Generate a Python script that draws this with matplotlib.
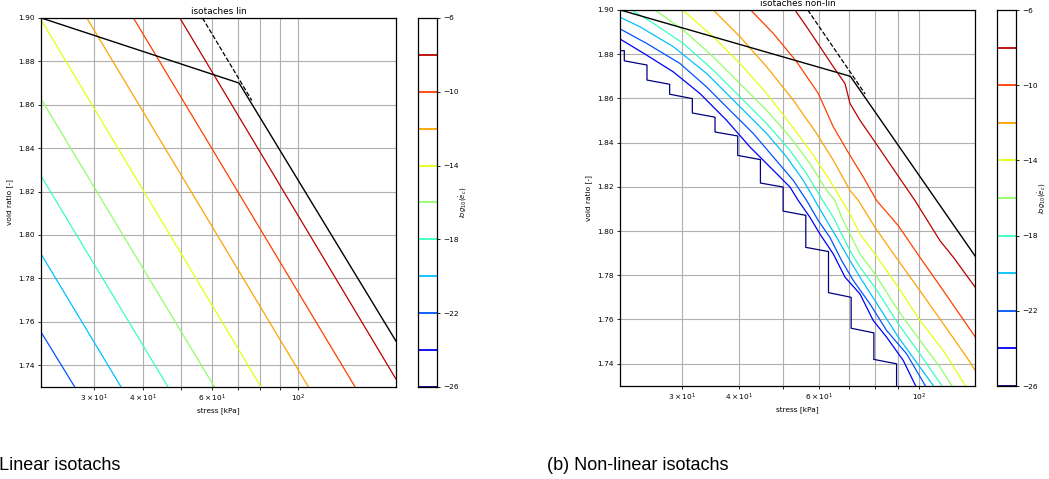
import numpy as np
import matplotlib.pyplot as plt
from matplotlib.colors import Normalize

# isotach levels (log10 of creep strain rate)
levels = [-26, -24, -22, -20, -18, -16, -14, -12, -10, -8, -6]
cbar_ticks = [-26, -22, -18, -14, -10, -6]

# loading path: recompression branch + normal compression line
path_stress = [21.94, 70.5, 178.0]
path_e = [1.900, 1.870, 1.751]
# NCL extended above the preconsolidation point
ncl_ext_stress = [56.8, 76.0]
ncl_ext_e = [1.900, 1.862]

# linear isotachs: straight lines in e - log(stress)
lin_levels = [-22, -20, -18, -16, -14, -12, -10, -8]
lin_s0 = [21.94, 21.94, 21.94, 21.94, 21.94, 28.7, 37.8, 49.7]
lin_e0 = [1.755, 1.791, 1.827, 1.8625, 1.899, 1.900, 1.900, 1.900]
lin_s1 = [26.7, 35.1, 46.3, 60.9, 80.2, 106.1, 139.7, 178.0]
lin_e1 = [1.730, 1.730, 1.730, 1.730, 1.730, 1.730, 1.730, 1.7335]

# non-linear isotachs
nl_s_m26 = [21.94, 22.39, 22.39, 25.12, 25.12, 28.18, 28.18, 31.62, 31.62, 35.48, 35.48,
            39.81, 39.81, 44.67, 44.67, 50.12, 50.12, 56.23, 56.23, 63.10, 63.10, 70.79,
            70.79, 79.43, 79.43, 89.13, 89.13]
nl_e_m26 = [1.8816, 1.8816, 1.8770, 1.8751, 1.8683, 1.8664, 1.8619, 1.8599, 1.8534, 1.8515,
            1.8448, 1.8430, 1.8342, 1.8323, 1.8217, 1.8199, 1.8090, 1.8071, 1.7926, 1.7907,
            1.7721, 1.7700, 1.7560, 1.7539, 1.7419, 1.7399, 1.7290]
nl_s_m24 = [21.94, 25.07, 28.71, 32.87, 37.62, 42.37, 46.88, 51.89, 54.13, 57.43, 60.43,
            64.66, 68.62, 74.04, 79.18, 84.72, 92.22, 98.67]
nl_e_m24 = [1.8868, 1.8796, 1.8720, 1.8622, 1.8501, 1.8380, 1.8290, 1.8199, 1.8138, 1.8062,
            1.7986, 1.7896, 1.7791, 1.7715, 1.7595, 1.7520, 1.7414, 1.7290]
nl_s_m22 = [21.94, 25.07, 29.70, 33.99, 38.27, 43.09, 47.68, 52.78, 56.47, 59.92, 63.57,
            67.46, 71.57, 77.88, 84.72, 93.80, 103.8]
nl_e_m22 = [1.8914, 1.8849, 1.8758, 1.8652, 1.8546, 1.8441, 1.8335, 1.8229, 1.8138, 1.8047,
            1.7971, 1.7866, 1.7776, 1.7670, 1.7550, 1.7444, 1.7290]
nl_s_m20 = [21.94, 24.24, 28.71, 33.99, 40.27, 46.11, 51.02, 55.53, 58.90, 62.51, 65.77,
            70.37, 74.04, 79.86, 89.92, 100.35, 108.3]
nl_e_m20 = [1.8967, 1.8924, 1.8834, 1.8713, 1.8562, 1.8441, 1.8335, 1.8229, 1.8138, 1.8047,
            1.7971, 1.7866, 1.7791, 1.7685, 1.7520, 1.7384, 1.7290]
nl_s_m18 = [23.24, 25.94, 30.20, 35.16, 40.27, 46.11, 51.89, 56.47, 61.3, 64.66, 67.46,
            70.37, 74.04, 79.86, 89.92, 100.35, 113.0]
nl_e_m18 = [1.9000, 1.8940, 1.8849, 1.8728, 1.8607, 1.8486, 1.8365, 1.8259, 1.8138, 1.8062,
            1.7986, 1.7911, 1.7836, 1.7745, 1.7580, 1.7444, 1.7290]
nl_s_m16 = [26.16, 30.20, 35.16, 40.27, 46.11, 51.89, 57.43, 62.51, 65.2, 67.46, 70.37,
            74.04, 79.86, 89.92, 100.35, 111.1, 118.9]
nl_e_m16 = [1.9000, 1.8909, 1.8788, 1.8667, 1.8546, 1.8426, 1.8305, 1.8184, 1.8138, 1.8062,
            1.7986, 1.7896, 1.7806, 1.7640, 1.7505, 1.7384, 1.7290]
nl_s_m14 = [30.10, 35.16, 40.27, 46.11, 51.89, 57.43, 63.57, 67.5, 70.37, 74.04, 79.86,
            89.92, 100.35, 113.0, 127.2]
nl_e_m14 = [1.9000, 1.8879, 1.8758, 1.8622, 1.8486, 1.8365, 1.8229, 1.8138, 1.8077, 1.7986,
            1.7896, 1.7745, 1.7595, 1.7459, 1.7290]
nl_s_m12 = [35.16, 40.27, 46.11, 52.78, 59.41, 64.66, 70.37, 73.43, 79.86, 89.92, 100.35,
            113.0, 127.2, 132.9]
nl_e_m12 = [1.9000, 1.8879, 1.8743, 1.8592, 1.8441, 1.8320, 1.8184, 1.8138, 1.8017, 1.7866,
            1.7730, 1.7580, 1.7429, 1.7369]
nl_s_m10 = [42.51, 47.68, 53.68, 59.92, 64.66, 70.37, 75.5, 80.54, 89.92, 100.35, 113.0,
            132.9]
nl_e_m10 = [1.9000, 1.8894, 1.8766, 1.8622, 1.8471, 1.8342, 1.8240, 1.8138, 1.8024, 1.7881,
            1.7730, 1.7520]
nl_s_m8 = [53.23, 56.47, 60.43, 64.66, 68.62, 70.37, 74.04, 79.86, 89.16, 97.84, 111.1,
           118.9, 132.9]
nl_e_m8 = [1.9000, 1.8924, 1.8834, 1.8743, 1.8667, 1.8577, 1.8501, 1.8403, 1.8259, 1.8138,
           1.7956, 1.7881, 1.7745]

nl_levels = [-26, -24, -22, -20, -18, -16, -14, -12, -10, -8]
nl_stress = [nl_s_m26, nl_s_m24, nl_s_m22, nl_s_m20, nl_s_m18,
             nl_s_m16, nl_s_m14, nl_s_m12, nl_s_m10, nl_s_m8]
nl_void = [nl_e_m26, nl_e_m24, nl_e_m22, nl_e_m20, nl_e_m18,
           nl_e_m16, nl_e_m14, nl_e_m12, nl_e_m10, nl_e_m8]

cmap = plt.get_cmap('jet')
norm = Normalize(vmin=-26, vmax=-7)

W, H = 1049, 479
fig = plt.figure(figsize=(W / 100, H / 100), dpi=100)


def px_box(x0, y0, x1, y1):
    return [x0 / W, 1 - y1 / H, (x1 - x0) / W, (y1 - y0) / H]


def style_axes(ax, title, xmax):
    ax.set_xscale('log')
    ax.set_xlim(21.94, xmax)
    ax.set_ylim(1.73, 1.90)
    ax.set_yticks(np.arange(1.74, 1.901, 0.02))
    ax.grid(True, which='both', color='#b0b0b0', lw=0.8)
    ax.set_axisbelow(True)
    ax.tick_params(which='both', labelsize=5.3, length=2.5, width=0.6, pad=2)
    ax.set_xlabel('stress [kPa]', fontsize=5.3, labelpad=2)
    ax.set_ylabel('void ratio [-]', fontsize=5.3, labelpad=4)
    ax.set_title(title, fontsize=6.4, pad=3)
    for sp in ax.spines.values():
        sp.set_linewidth(0.9)
    ax.plot(path_stress, path_e, color='black', lw=1.0)
    ax.plot(ncl_ext_stress, ncl_ext_e, color='black', lw=0.9, ls='--')


def draw_cbar(cax):
    cax.set_ylim(min(levels), max(levels))
    for lv in levels:
        cax.axhline(lv, color=cmap(norm(lv)), lw=1.3)
    cax.set_xticks([])
    cax.yaxis.tick_right()
    cax.set_yticks(cbar_ticks)
    cax.tick_params(labelsize=5.3, length=2.5, width=0.6, pad=2)
    cax.yaxis.set_label_position('right')
    cax.set_ylabel(r'$log_{10}(\dot{e}_c)$', fontsize=5.0, labelpad=-1)
    for sp in cax.spines.values():
        sp.set_linewidth(0.9)


# linear isotachs
ax1 = fig.add_axes(px_box(41.3, 18, 396, 386.7))
for lv, s0, e0, s1, e1 in zip(lin_levels, lin_s0, lin_e0, lin_s1, lin_e1):
    ax1.plot([s0, s1], [e0, e1], color=cmap(norm(lv)), lw=0.9)
style_axes(ax1, 'isotaches lin', 178.0)
cax1 = fig.add_axes(px_box(418, 18, 437, 387))
draw_cbar(cax1)

# non-linear isotachs
ax2 = fig.add_axes(px_box(620.3, 10, 975.3, 385.7))
for lv, s, e in zip(nl_levels, nl_stress, nl_void):
    ax2.plot(s, e, color=cmap(norm(lv)), lw=0.9)
style_axes(ax2, 'isotaches non-lin', 132.9)
cax2 = fig.add_axes(px_box(997, 10, 1016, 386))
draw_cbar(cax2)

fig.text(-28 / W, 1 - 465 / H, '(a) Linear isotachs', family='Liberation Sans',
         fontsize=13, va='center', ha='left')
fig.text(547 / W, 1 - 465 / H, '(b) Non-linear isotachs', family='Liberation Sans',
         fontsize=13, va='center', ha='left')

fig.savefig('out.png', dpi=100)
